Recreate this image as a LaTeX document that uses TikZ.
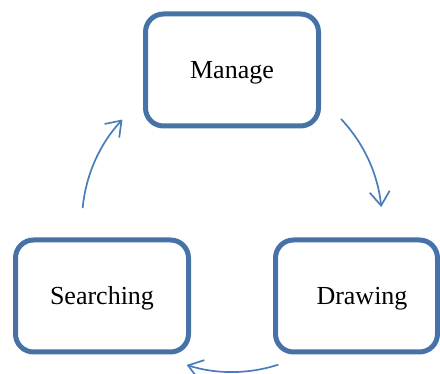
\documentclass[tikz,border=0pt]{standalone}
\usepackage{fontspec}
\setmainfont{Liberation Serif}
\usetikzlibrary{arrows.meta}
\definecolor{boxblue}{RGB}{70,114,168}
\definecolor{arrblue}{RGB}{74,126,187}
\begin{document}
\begin{tikzpicture}[x=1pt,y=1pt,
  stagebox/.style={draw=boxblue, line width=5pt, rounded corners=18pt, fill=white,
    minimum height=112pt, inner sep=0pt, text height=22pt, text depth=4pt,
    font=\fontsize{26}{31}\selectfont},
  cyc/.style={draw=arrblue, line width=1.7pt, -{Straight Barb[length=14pt,width=20pt,line width=1.7pt]}}]
\useasboundingbox (0,0) rectangle (440,374);
\node[stagebox, minimum width=173pt] (manage) at (232,304) {Manage};
\node[stagebox, minimum width=173pt] (search) at (102,78) {Searching};
\node[stagebox, minimum width=162pt] (drawing) at (356.5,78) {\hspace*{11pt}Drawing};
\coordinate (c) at (232,152);
\draw[cyc] (c) ++(174.7:150) arc[start angle=174.7, end angle=136.9, radius=150];
\draw[cyc] (c) ++(43.4:150) arc[start angle=43.4, end angle=5.7, radius=150];
\draw[cyc] (c) ++(-72:150) arc[start angle=-72, end angle=-107.6, radius=150];
\end{tikzpicture}
\end{document}
